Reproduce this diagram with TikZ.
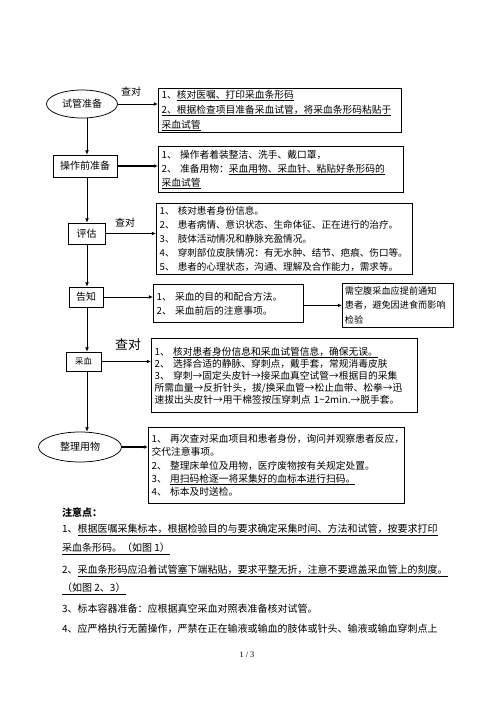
\documentclass[tikz,border=0pt]{standalone}
\usepackage{fontspec}
\setmainfont{Noto Sans CJK SC}
\newfontfamily\pagefont{Liberation Serif}
\usepackage{tikz}
\usetikzlibrary{arrows.meta,shapes,positioning,calc}

\begin{document}
\begin{tikzpicture}[x=1.2pt,y=-1.2pt,
stepbox/.style={draw, line width=0.9pt, align=center, inner sep=1pt, font=\fontsize{12pt}{14pt}\selectfont},
ovalstep/.style={draw, shape=ellipse, line width=0.9pt, inner sep=1pt, font=\fontsize{12pt}{14pt}\selectfont},
infobox/.style={draw, line width=0.9pt, anchor=north west, align=left, inner xsep=4pt, inner ysep=2pt},
notetext/.style={anchor=west, inner sep=0pt, font=\fontsize{12pt}{14pt}\selectfont},
checklabel/.style={inner sep=0pt, font=\fontsize{12pt}{14pt}\selectfont},
flow/.style={line width=0.9pt, -{Latex[length=5pt,width=4.5pt]}}]
\useasboundingbox (0,0) rectangle (496,702);
\coordinate (spine) at (87,0);

\node[ovalstep, minimum width=85.2pt, minimum height=33.6pt] (zhunbei) at (82,104) {试管准备};
\node[stepbox, minimum width=76.8pt, minimum height=26.4pt] (caozuo) at (85,166) {操作前准备};
\node[stepbox, minimum width=44.4pt, minimum height=25.2pt] (pinggu) at (86.5,233.5) {评估};
\node[stepbox, minimum width=40.8pt, minimum height=24pt] (gaozhi) at (86,297) {告知};
\node[stepbox, minimum width=42pt, minimum height=22.8pt, font=\fontsize{10pt}{12pt}\selectfont] (caixue) at (83.5,361.5) {采血};
\node[ovalstep, minimum width=99.6pt, minimum height=36pt] (zhengli) at (80,447) {整理用物};

\node[infobox, text width=283.6pt, minimum height=52.8pt, font=\fontsize{11.7pt}{18pt}\selectfont] (hedui) at (158,88)
{1、\underline{核对医嘱、打印采血条形码}\\\underline{2、根据检查项目准备采血试管，将采血条形码粘贴于}\\\underline{采血试管}};
\node[infobox, text width=286pt, minimum height=55.2pt, font=\fontsize{11.7pt}{16.8pt}\selectfont] (zhuangzhuo) at (158,146)
{1、~操作者着装整洁、洗手、戴口罩，\\2、~准备用物：\underline{采血用物、采血针、粘贴好条形码的}\\\underline{采血试管}};
\node[infobox, text width=299.2pt, minimum height=85.2pt, font=\fontsize{11.5pt}{16.8pt}\selectfont] (huanzhe) at (156,203)
{1、~核对患者身份信息。\\2、~患者病情、意识状态、生命体征、正在进行的治疗。\\3、~肢体活动情况和静脉充盈情况。\\4、~穿刺部位皮肤情况：有无水肿、结节、疤痕、伤口等。\\5、~患者的心理状态，沟通、理解及合作能力，需求等。};
\node[infobox, text width=172pt, minimum height=45.6pt, font=\fontsize{11.7pt}{16.8pt}\selectfont] (mudi) at (153,284)
{1、~采血的目的和配合方法。\\2、~采血前后的注意事项。};
\node[infobox, inner xsep=3pt, text width=127.2pt, minimum height=52.8pt, font=\fontsize{11pt}{17.4pt}\selectfont] (kongfu) at (342,283)
{需空腹采血应提前通知\\患者，避免因进食而影响\\检验};
\node[infobox, text width=311.2pt, minimum height=88.8pt, font=\fontsize{11.7pt}{14.4pt}\selectfont] (chuanci) at (151,338)
{1、~\underline{核对患者身份信息和采血试管信息，确保无误。}\\2、~选择合适的静脉、穿刺点，戴手套，常规消毒皮肤\\3、~穿刺→固定头皮针→接采血真空试管→根据目的采集\\所需血量→反折针头，拔/换采血管→松止血带、松拳→迅\\速拔出头皮针→用干棉签按压穿刺点 1\textasciitilde2min.→脱手套。};
\node[infobox, text width=299.2pt, minimum height=91.2pt, font=\fontsize{11.7pt}{15.9pt}\selectfont] (chuli) at (148,427)
{1、~再次查对采血项目和患者身份，询问并观察患者反应，\\交代注意事项。\\2、~整理床单位及用物，医疗废物按有关规定处置。\\3、~\underline{用扫码枪逐一将采集好的血标本进行扫码。}\\4、~标本及时送检。};

\node[checklabel] (check1) at (131,92) {查对};
\node[checklabel] (check2) at (125,223) {查对};
\node[checklabel, font=\fontsize{15.5pt}{17pt}\selectfont] (check3) at (128,345) {查对};

\draw[flow] (zhunbei.south -| spine) -- (caozuo.north -| spine);
\draw[flow] (caozuo.south -| spine) -- (pinggu.north -| spine);
\draw[flow] (pinggu.south -| spine) -- (gaozhi.north -| spine);
\draw[flow] (gaozhi.south -| spine) -- (caixue.north -| spine);
\draw[flow] (caixue.south -| spine) -- (zhengli.north -| spine);

\draw[flow] (zhunbei.east) -- (zhunbei.east -| hedui.west);
\draw[flow, line width=1.3pt] (caozuo.east) -- (caozuo.east -| zhuangzhuo.west);
\draw[flow] (pinggu.east) -- (pinggu.east -| huanzhe.west);
\draw[flow] (gaozhi.east) -- (gaozhi.east -| mudi.west);
\draw[flow, line width=1.3pt] (mudi.east |- kongfu.west) -- (kongfu.west);
\draw[flow, line width=1.3pt] (caixue.east) -- (caixue.east -| chuanci.west);
\draw[flow, line width=1.3pt] (zhengli.east) -- (zhengli.east -| chuli.west);

\node[notetext] (notehead) at (62,513) {\bfseries 注意点：};
\node[notetext] (note1) at (62,530) {1、\underline{根据医嘱采集标本，根据检验目的与要求确定采集时间、方法和试管，按要求打印}};
\node[notetext] (note1b) at (62,549) {\underline{采血条形码。（如图 1）}};
\node[notetext] (note2) at (62,571) {2、\underline{采血条形码应沿着试管塞下端粘贴，要求平整无折，注意不要遮盖采血管上的刻度。}};
\node[notetext] (note2b) at (62,589) {\underline{（如图 2、3）}};
\node[notetext] (note3) at (62,609) {3、标本容器准备：应根据真空采血对照表准备核对试管。};
\node[notetext] (note4) at (62,629) {4、应严格执行无菌操作，严禁在正在输液或输血的肢体或针头、输液或输血穿刺点上};
\node[font=\pagefont\fontsize{10pt}{12pt}\selectfont] (pagenum) at (247,655) {1 / 3};
\end{tikzpicture}
\end{document}
